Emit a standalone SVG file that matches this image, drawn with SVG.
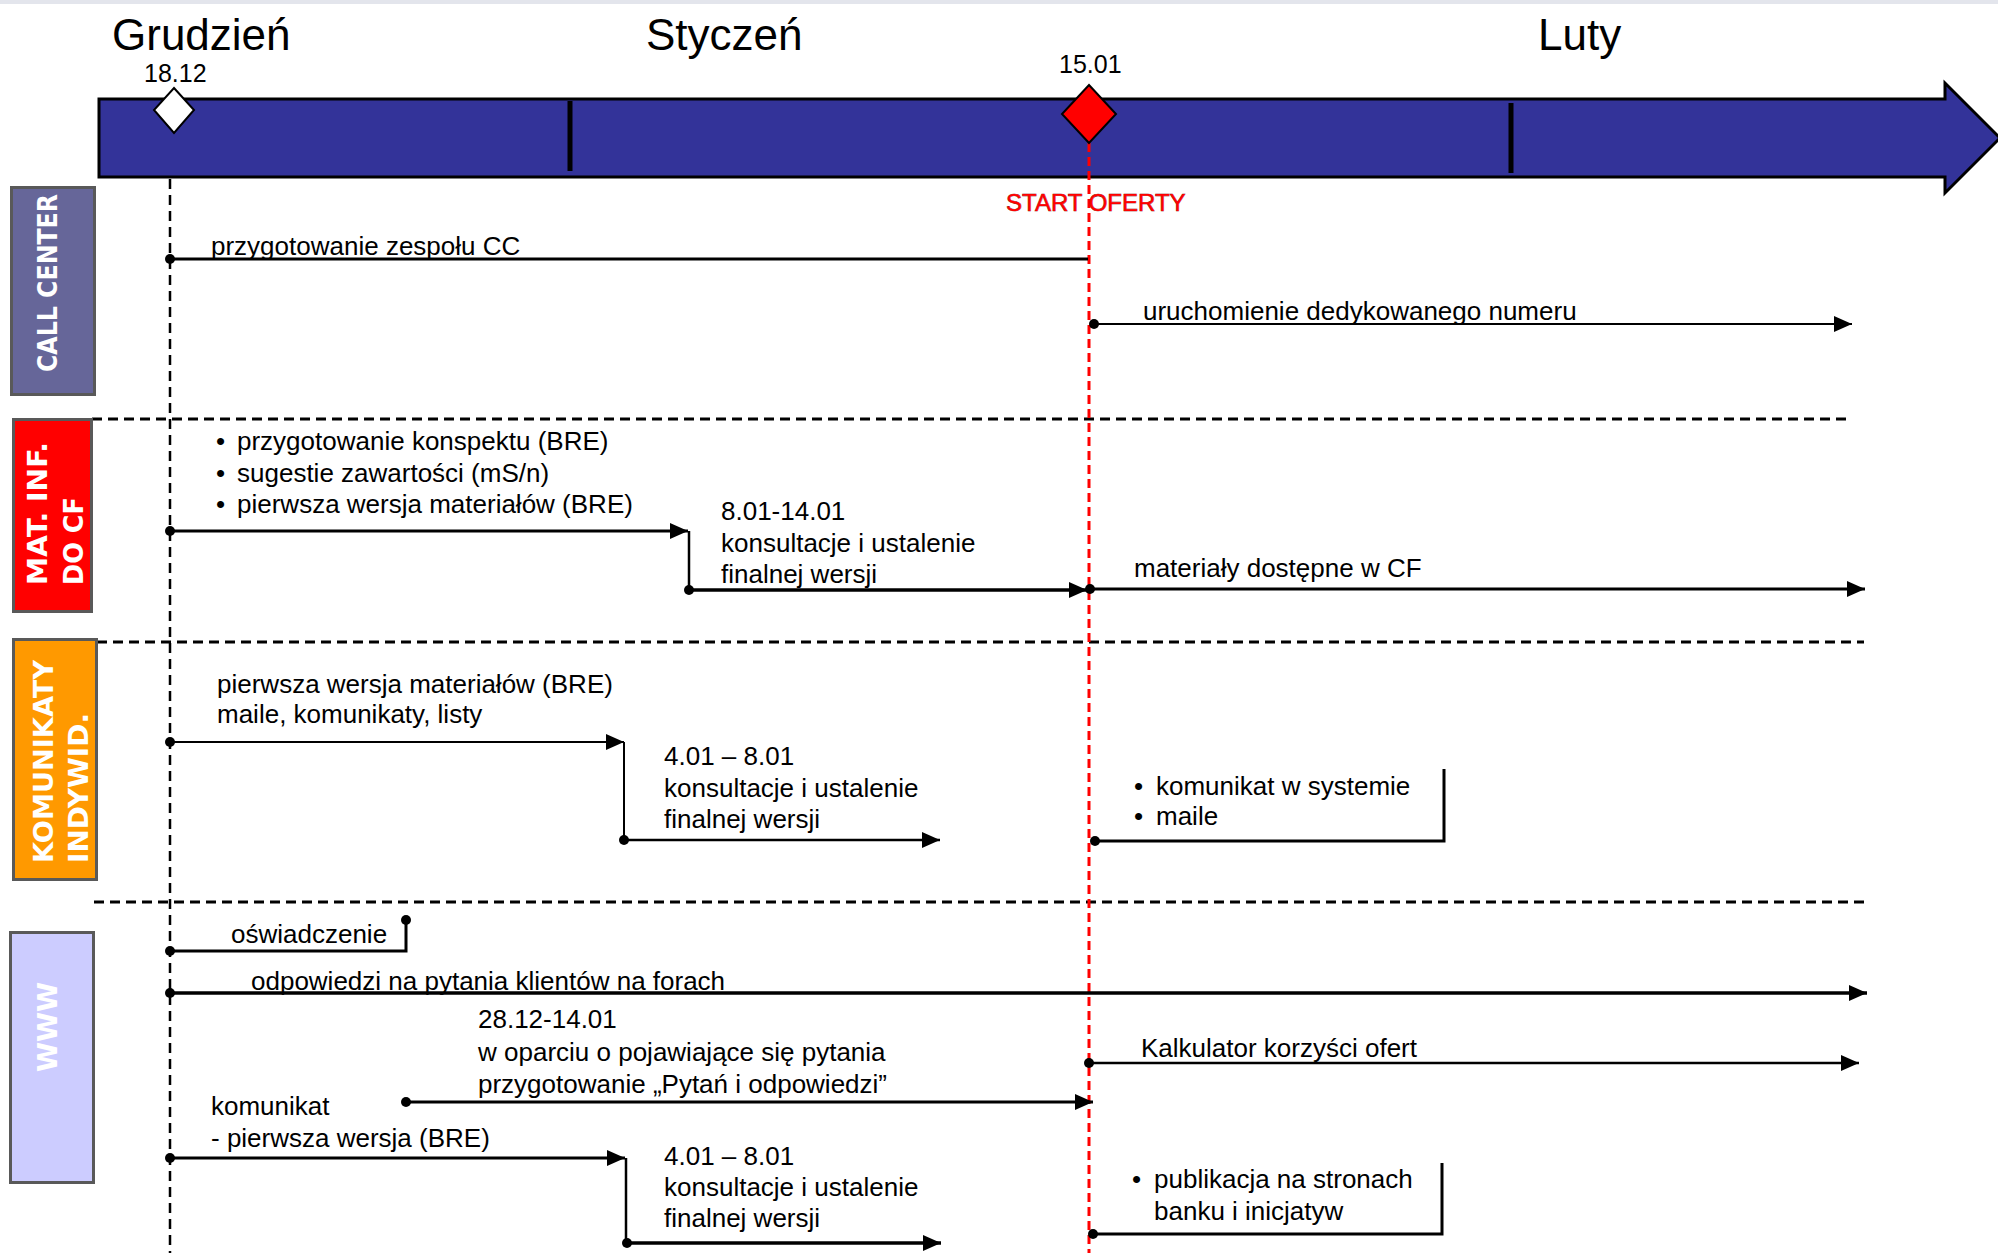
<svg xmlns="http://www.w3.org/2000/svg" width="1998" height="1253" viewBox="0 0 1998 1253">
<style>
.t{font-family:"Liberation Sans",Arial,sans-serif;font-size:26px;fill:#000}
.m{font-family:"Liberation Sans",Arial,sans-serif;font-size:44px;fill:#000}
.d{font-family:"Liberation Sans",Arial,sans-serif;font-size:25px;fill:#000}
.red{font-family:"Liberation Sans",Arial,sans-serif;font-size:24px;fill:#ff0000;stroke:#7a0000;stroke-width:0.6;paint-order:stroke}
.lab{font-family:"DejaVu Sans","Liberation Sans",Arial,sans-serif;font-weight:bold;font-size:27px;fill:#fff}
.box{stroke:#595959;stroke-width:3}
.sep{stroke:#000;stroke-width:3;stroke-dasharray:10 6;fill:none}
.ln{stroke:#000;fill:none}
.a{marker-end:url(#arr)}
.s{marker-start:url(#dot)}
</style>
<defs>
<marker id="arr" markerUnits="userSpaceOnUse" viewBox="0 0 18 16" refX="18" refY="8" markerWidth="18" markerHeight="16" orient="auto">
<path d="M0,0 L18,8 L0,16 z" fill="#000"/>
</marker>
<marker id="dot" markerUnits="userSpaceOnUse" viewBox="0 0 10 10" refX="5" refY="5" markerWidth="10" markerHeight="10">
<circle cx="5" cy="5" r="5" fill="#000"/>
</marker>
</defs>
<rect x="0" y="0" width="1998" height="1253" fill="#fff"/>
<rect x="0" y="0" width="1998" height="4" fill="#e3e5ec"/>

<g id="timeline">
<polygon points="99,99 1945,99 1945,83 2000,138 1945,193 1945,177 99,177" fill="#333399" stroke="#000" stroke-width="3"/>
<line x1="570" y1="101" x2="570" y2="171" stroke="#000" stroke-width="5"/>
<line x1="1511" y1="103" x2="1511" y2="173" stroke="#000" stroke-width="5"/>
<text class="m" x="112" y="50">Grudzień</text>
<text class="m" x="646" y="50">Styczeń</text>
<text class="m" x="1538" y="50">Luty</text>
</g>

<g id="separators">
<line class="sep" x1="92" y1="419" x2="1852" y2="419"/>
<line class="sep" x1="97" y1="642" x2="1864" y2="642"/>
<line class="sep" x1="94" y1="902" x2="1864" y2="902"/>
<line x1="170" y1="179" x2="170" y2="1253" stroke="#000" stroke-width="2.5" stroke-dasharray="10 6"/>
<line x1="1089" y1="143" x2="1089" y2="1253" stroke="#ff0000" stroke-width="3" stroke-dasharray="9 5"/>
</g>

<g id="milestone-1812">
<polygon points="174,88 194,110 174,133 154,110" fill="#fff" stroke="#000" stroke-width="2"/>
<text class="d" x="144" y="82">18.12</text>
</g>
<g id="milestone-1501">
<polygon points="1089,85 1116,114 1089,143 1062,114" fill="#ff0000" stroke="#000" stroke-width="2"/>
<text class="d" x="1059" y="73">15.01</text>
<text class="red" x="1006" y="211">START OFERTY</text>
</g>

<g id="lane-call-center">
<rect class="box" x="11.5" y="187.5" width="83" height="207" fill="#666699"/>
<text class="lab" transform="translate(57,372) rotate(-90)" textLength="178" lengthAdjust="spacingAndGlyphs">CALL CENTER</text>
</g>
<g id="lane-mat-inf">
<rect class="box" x="13.5" y="419.5" width="78" height="192" fill="#ff0000"/>
<text class="lab" transform="translate(47,585) rotate(-90)" textLength="143" lengthAdjust="spacingAndGlyphs">MAT. INF.</text>
<text class="lab" transform="translate(83,585) rotate(-90)" textLength="88" lengthAdjust="spacingAndGlyphs">DO CF</text>
</g>
<g id="lane-komunikaty">
<rect class="box" x="13.5" y="639.5" width="83" height="240" fill="#ff9900"/>
<text class="lab" transform="translate(53,863) rotate(-90)" textLength="203" lengthAdjust="spacingAndGlyphs">KOMUNIKATY</text>
<text class="lab" transform="translate(88,863) rotate(-90)" textLength="150" lengthAdjust="spacingAndGlyphs">INDYWID.</text>
</g>
<g id="lane-www">
<rect class="box" x="10.5" y="932.5" width="83" height="250" fill="#ccccff"/>
<text class="lab" transform="translate(57,1072) rotate(-90)" textLength="90" lengthAdjust="spacingAndGlyphs">WWW</text>
</g>

<g id="connectors">
<path class="ln s" stroke-width="3" d="M170,259 H1088"/>
<path class="ln s a" stroke-width="2" d="M1094,324 H1852"/>
<path class="ln s a" stroke-width="3" d="M170,531 H688"/>
<path class="ln" stroke-width="2.5" d="M689,531 V590"/>
<path class="ln s a" stroke-width="3.5" d="M689,590 H1087"/>
<path class="ln s a" stroke-width="3" d="M1090,589 H1865"/>
<path class="ln s a" stroke-width="2" d="M170,742 H624"/>
<path class="ln" stroke-width="2" d="M624,742 V840"/>
<path class="ln s a" stroke-width="2.5" d="M624,840 H940"/>
<path class="ln s" stroke-width="3" d="M1095,841 H1444 V769"/>
<path class="ln s" stroke-width="3" d="M170,951 H406 V920" marker-end="url(#dot)"/>
<path class="ln s a" stroke-width="3.5" d="M170,993 H1867"/>
<path class="ln s a" stroke-width="3" d="M406,1102 H1093"/>
<path class="ln s a" stroke-width="2.5" d="M1089,1063 H1859"/>
<path class="ln s a" stroke-width="3" d="M170,1158 H625"/>
<path class="ln" stroke-width="2.5" d="M626,1158 V1243"/>
<path class="ln s a" stroke-width="3.5" d="M627,1243 H941"/>
<path class="ln s" stroke-width="3" d="M1093,1234 H1442 V1163"/>
</g>

<g id="task-cc-team"><text class="t" x="211" y="255">przygotowanie zespołu CC</text></g>
<g id="task-cc-number"><text class="t" x="1143" y="320">uruchomienie dedykowanego numeru</text></g>

<g id="task-mat-prep">
<text class="t" x="216" y="450">•</text><text class="t" x="237" y="450">przygotowanie konspektu (BRE)</text>
<text class="t" x="216" y="482">•</text><text class="t" x="237" y="482">sugestie zawartości (mS/n)</text>
<text class="t" x="216" y="513">•</text><text class="t" x="237" y="513">pierwsza wersja materiałów (BRE)</text>
</g>
<g id="task-mat-consult">
<text class="t" x="721" y="520">8.01-14.01</text>
<text class="t" x="721" y="552">konsultacje i ustalenie</text>
<text class="t" x="721" y="583">finalnej wersji</text>
</g>
<g id="task-mat-cf"><text class="t" x="1134" y="577">materiały dostępne w CF</text></g>

<g id="task-kom-first">
<text class="t" x="217" y="693">pierwsza wersja materiałów (BRE)</text>
<text class="t" x="217" y="723">maile, komunikaty, listy</text>
</g>
<g id="task-kom-consult">
<text class="t" x="664" y="765">4.01 – 8.01</text>
<text class="t" x="664" y="797">konsultacje i ustalenie</text>
<text class="t" x="664" y="828">finalnej wersji</text>
</g>
<g id="task-kom-system">
<text class="t" x="1134" y="795">•</text><text class="t" x="1156" y="795">komunikat w systemie</text>
<text class="t" x="1134" y="825">•</text><text class="t" x="1156" y="825">maile</text>
</g>

<g id="task-www-osw"><text class="t" x="231" y="943">oświadczenie</text></g>
<g id="task-www-forum"><text class="t" x="251" y="990">odpowiedzi na pytania klientów na forach</text></g>
<g id="task-www-faq">
<text class="t" x="478" y="1028">28.12-14.01</text>
<text class="t" x="478" y="1061">w oparciu o pojawiające się pytania</text>
<text class="t" x="478" y="1093">przygotowanie „Pytań i odpowiedzi”</text>
</g>
<g id="task-www-calc"><text class="t" x="1141" y="1057">Kalkulator korzyści ofert</text></g>
<g id="task-www-kom">
<text class="t" x="211" y="1115">komunikat</text>
<text class="t" x="211" y="1147">- pierwsza wersja (BRE)</text>
</g>
<g id="task-www-consult">
<text class="t" x="664" y="1165">4.01 – 8.01</text>
<text class="t" x="664" y="1196">konsultacje i ustalenie</text>
<text class="t" x="664" y="1227">finalnej wersji</text>
</g>
<g id="task-www-pub">
<text class="t" x="1132" y="1188">•</text><text class="t" x="1154" y="1188">publikacja na stronach</text>
<text class="t" x="1154" y="1220">banku i inicjatyw</text>
</g>
</svg>
